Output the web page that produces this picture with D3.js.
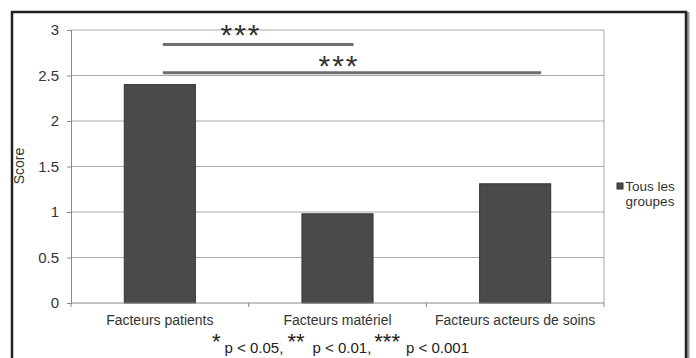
<!DOCTYPE html>
<html><head><meta charset="utf-8">
<script src="https://cdn.jsdelivr.net/npm/d3@7"></script>
<style>body{margin:0;background:#fff}svg{display:block}text{font-family:"Liberation Sans",Arial,sans-serif}</style>
</head><body><svg id="c" width="696" height="358"></svg>
<script>
const categories = ["Facteurs patients", "Facteurs matériel", "Facteurs acteurs de soins"];
const values = [2.40, 0.98, 1.31];
const yTicks = [0, 0.5, 1, 1.5, 2, 2.5, 3];
const seriesName = "Tous les groupes";
const sigPairs = [
  {from: 0, to: 1, y: 2.84, label: "***"},
  {from: 0, to: 2, y: 2.53, label: "***"}
];
const footnote = [["*", "p < 0.05,"], ["**", "p < 0.01,"], ["***", "p < 0.001"]];

const svg = d3.select("#c");
// frame
svg.append("rect").attr("x", 687).attr("y", 12).attr("width", 2.5).attr("height", 346).attr("fill", "#999");
svg.append("path").attr("d", "M12,358V12H686V358").attr("fill", "none").attr("stroke", "#222").attr("stroke-width", 2.5);

const m = {l: 71, r: 604, t: 30, b: 303};
const x = d3.scaleBand().domain(categories).range([m.l, m.r]).paddingInner(0.6).paddingOuter(0.3);
const y = d3.scaleLinear().domain([0, 3]).range([m.b, m.t]);

// gridlines
svg.append("g").selectAll("line").data(yTicks.filter(d => d > 0)).join("line")
  .attr("x1", m.l).attr("x2", m.r).attr("y1", d => y(d)).attr("y2", d => y(d))
  .attr("stroke", "#a8a8a8").attr("stroke-width", 1);
svg.append("line").attr("x1", m.r).attr("x2", m.r).attr("y1", m.t).attr("y2", m.b).attr("stroke", "#a8a8a8");

// bars
svg.append("g").selectAll("rect").data(values).join("rect")
  .attr("x", (d, i) => x(categories[i])).attr("width", x.bandwidth())
  .attr("y", d => y(d)).attr("height", d => y(0) - y(d))
  .attr("fill", "#4a4a4c").attr("stroke", "#333").attr("stroke-width", 1);

// y axis
const ya = d3.axisLeft(y).tickValues(yTicks).tickSize(4).tickPadding(8).tickFormat(d3.format("~g"));
const yg = svg.append("g").attr("transform", `translate(${m.l},0)`).call(ya);
yg.select(".domain").attr("stroke", "#888");
yg.selectAll(".tick line").attr("stroke", "#888");
yg.selectAll("text").attr("font-size", 15).attr("fill", "#333");

// x axis
const xg = svg.append("g").attr("transform", `translate(0,${m.b})`);
xg.append("line").attr("x1", m.l).attr("x2", m.r).attr("stroke", "#888");
const bounds = d3.range(categories.length + 1).map(i => m.l + i * (m.r - m.l) / categories.length);
xg.selectAll(".tk").data(bounds).join("line").attr("class", "tk")
  .attr("x1", d => d).attr("x2", d => d).attr("y1", 0).attr("y2", 4).attr("stroke", "#888");
xg.selectAll(".lb").data(categories).join("text").attr("class", "lb")
  .attr("x", d => x(d) + x.bandwidth() / 2).attr("y", 22).attr("text-anchor", "middle")
  .attr("font-size", 14).attr("fill", "#333").text(d => d);

// y label
svg.append("text").attr("transform", "translate(24,166) rotate(-90)").attr("text-anchor", "middle")
  .attr("font-size", 14).attr("fill", "#333").text("Score");

// legend
svg.append("rect").attr("x", 617).attr("y", 183).attr("width", 6).attr("height", 6).attr("fill", "#4a4a4c").attr("stroke", "#333");
const lt = svg.append("text").attr("font-size", 13.5).attr("fill", "#333").attr("text-anchor", "middle");
const words = seriesName.split(" ");
lt.append("tspan").attr("x", 650).attr("y", 191).text(words.slice(0, 2).join(" "));
lt.append("tspan").attr("x", 650).attr("y", 206).text(words.slice(2).join(" "));

// significance
const cx = i => x(categories[i]) + x.bandwidth() / 2;
const sg = svg.append("g");
sigPairs.forEach((p, k) => {
  const x1 = cx(p.from) + 3;
  const x2 = k === 0 ? cx(p.to) + 16 : cx(p.to) + 26;
  sg.append("line").attr("x1", x1).attr("x2", x2).attr("y1", y(p.y)).attr("y2", y(p.y))
    .attr("stroke", "#6e6e6e").attr("stroke-width", 3);
  sg.append("text").attr("x", k === 0 ? 241 : 339).attr("y", y(p.y) - (k === 0 ? 12.6 : 9.2) + (k === 0 ? 13 : 12))
    .attr("text-anchor", "middle").attr("font-size", 30).attr("letter-spacing", 2).attr("fill", "#333")
    .text(p.label);
});

// footnote
const starDx = [0, 4, 3];
const textDx = [4, 8, 6];
const ft = svg.append("text").attr("x", 212).attr("y", 353).attr("fill", "#222");
footnote.forEach(([s, t], i) => {
  ft.append("tspan").attr("font-size", 22).attr("dy", -4).attr("dx", starDx[i]).text(s);
  ft.append("tspan").attr("font-size", 15).attr("dy", 4).attr("dx", textDx[i]).text(t);
});
</script></body></html>
